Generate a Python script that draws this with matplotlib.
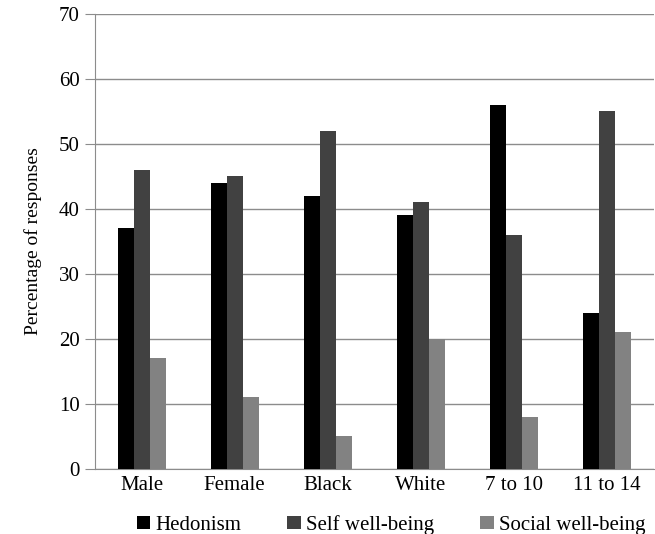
import matplotlib.pyplot as plt
import numpy as np

plt.rcParams['font.family'] = ['Liberation Serif', 'DejaVu Serif']

categories = ['Male', 'Female', 'Black', 'White', '7 to 10', '11 to 14']
hedonism = [37, 44, 42, 39, 56, 24]
self_wb = [46, 45, 52, 41, 36, 55]
social_wb = [17, 11, 5, 20, 8, 21]

series = [('Hedonism', hedonism, '#000000'),
          ('Self well-being', self_wb, '#414141'),
          ('Social well-being', social_wb, '#828282')]

fig = plt.figure(figsize=(6.55, 5.34), dpi=100)
ax = fig.add_axes([0.145, 0.122, 0.853, 0.852])

x = np.arange(len(categories))
width = 0.172
for i, (name, vals, col) in enumerate(series):
    ax.bar(x + (i - 1) * width, vals, width, color=col, label=name, zorder=3)

ax.set_xlim(-0.5, len(categories) - 0.5)
ax.set_ylim(0, 70)
ax.set_yticks(np.arange(0, 71, 10))
ax.set_xticks(x)
ax.set_xticklabels(categories)
ax.yaxis.grid(True, color='#8c8c8c', linewidth=1, zorder=0)
ax.tick_params(axis='y', length=7, color='#8c8c8c', labelsize=15, pad=4)
ax.tick_params(axis='x', length=0, labelsize=15, pad=5)
for s in ['top', 'right']:
    ax.spines[s].set_visible(False)
ax.spines['left'].set_color('#8c8c8c')
ax.spines['bottom'].set_color('#8c8c8c')
ax.set_ylabel('Percentage of responses', fontsize=14, labelpad=12)

ax.legend(loc='upper center', bbox_to_anchor=(0.53, -0.06), ncol=3, frameon=False,
          fontsize=15, handlelength=0.65, handleheight=0.65, handletextpad=0.25,
          columnspacing=2.2)

plt.savefig('out.png', dpi=100)
